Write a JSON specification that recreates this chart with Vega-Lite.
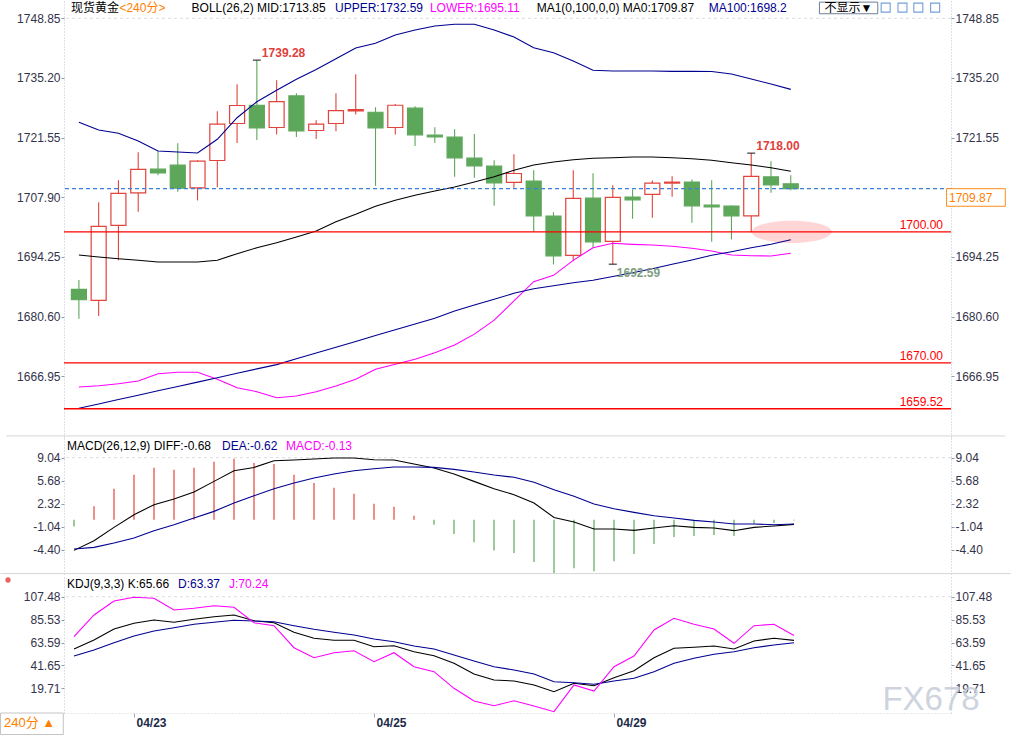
{
"$schema": "https://vega.github.io/schema/vega-lite/v6.json",
"background": "white",
"padding": 0,
"autosize": {"type": "pad"},
"spacing": 0,
"config": {
  "view": {"stroke": null},
  "font": "Liberation Sans, Noto Sans CJK SC",
  "locale": {"number": {"decimal": ".", "thousands": ",", "grouping": [3], "currency": ["", ""], "minus": "-"}},
  "axis": {"labelFont": "Liberation Sans", "labelFontSize": 12, "labelColor": "#33334a", "tickColor": "#8b9bb4", "tickSize": 3, "labelPadding": 1, "domainColor": "#b9c5d6", "domainDash": [1, 2], "grid": false, "labelOverlap": false, "labelFlush": false}
},
"datasets": {
  "bars": [
    {"i":0,"o":1686.85,"h":1688.96,"l":1680.12,"c":1684.46,"up":1725.06,"mid":1694.70,"lo":1664.50,"ma":1659.63,"macd":-1.00,"diff":-4.47,"dea":-4.27,"k":57.37,"d":50.66,"j":69.15},
    {"i":1,"o":1684.32,"h":1706.79,"l":1680.74,"c":1701.24,"up":1723.30,"mid":1694.24,"lo":1664.80,"ma":1660.61,"macd":1.94,"diff":-3.06,"dea":-4.03,"k":65.99,"d":56.41,"j":89.95},
    {"i":2,"o":1701.47,"h":1711.82,"l":1693.47,"c":1708.78,"up":1722.54,"mid":1693.85,"lo":1665.25,"ma":1661.62,"macd":4.51,"diff":-1.12,"dea":-3.39,"k":76.53,"d":63.41,"j":103.36},
    {"i":3,"o":1708.92,"h":1718.22,"l":1704.58,"c":1714.27,"up":1720.78,"mid":1693.49,"lo":1665.87,"ma":1662.62,"macd":6.55,"diff":0.73,"dea":-2.66,"k":81.99,"d":69.83,"j":106.90},
    {"i":4,"o":1714.34,"h":1718.45,"l":1712.96,"c":1713.49,"up":1718.49,"mid":1693.10,"lo":1667.54,"ma":1663.63,"macd":7.57,"diff":2.18,"dea":-1.60,"k":85.15,"d":74.62,"j":105.95},
    {"i":5,"o":1715.25,"h":1720.28,"l":1709.15,"c":1709.99,"up":1718.26,"mid":1693.10,"lo":1667.86,"ma":1664.61,"macd":7.28,"diff":3.01,"dea":-0.73,"k":82.95,"d":77.78,"j":94.74},
    {"i":6,"o":1710.07,"h":1716.39,"l":1707.18,"c":1716.16,"up":1718.03,"mid":1693.10,"lo":1667.86,"ma":1665.62,"macd":7.57,"diff":4.03,"dea":0.25,"k":85.83,"d":81.04,"j":96.36},
    {"i":7,"o":1716.32,"h":1727.59,"l":1710.22,"c":1724.62,"up":1721.17,"mid":1693.49,"lo":1666.26,"ma":1666.63,"macd":8.44,"diff":5.58,"dea":1.21,"k":88.32,"d":82.95,"j":98.86},
    {"i":8,"o":1724.78,"h":1733.76,"l":1720.35,"c":1728.90,"up":1726.11,"mid":1695.00,"lo":1664.34,"ma":1667.63,"macd":8.88,"diff":7.13,"dea":2.43,"k":89.95,"d":84.87,"j":97.32},
    {"i":9,"o":1728.96,"h":1739.28,"l":1721.03,"c":1723.78,"up":1729.77,"mid":1696.37,"lo":1663.42,"ma":1668.64,"macd":8.25,"diff":7.61,"dea":3.49,"k":84.48,"d":84.20,"j":82.57},
    {"i":10,"o":1723.87,"h":1734.68,"l":1722.27,"c":1729.81,"up":1732.38,"mid":1697.51,"lo":1662.05,"ma":1669.62,"macd":8.10,"diff":8.59,"dea":4.51,"k":82.57,"d":83.53,"j":79.70},
    {"i":11,"o":1731.09,"h":1731.71,"l":1721.72,"c":1723.09,"up":1734.89,"mid":1698.82,"lo":1662.44,"ma":1670.95,"macd":6.55,"diff":8.69,"dea":5.34,"k":73.37,"d":79.70,"j":58.61},
    {"i":12,"o":1723.18,"h":1725.54,"l":1721.26,"c":1724.62,"up":1737.13,"mid":1700.19,"lo":1663.42,"ma":1672.28,"macd":5.34,"diff":8.83,"dea":6.07,"k":67.62,"d":76.24,"j":49.06},
    {"i":13,"o":1724.78,"h":1731.71,"l":1723.02,"c":1727.75,"up":1739.61,"mid":1702.32,"lo":1664.73,"ma":1673.60,"macd":4.66,"diff":8.98,"dea":6.65,"k":65.71,"d":73.37,"j":53.83},
    {"i":14,"o":1727.66,"h":1736.05,"l":1726.84,"c":1727.98,"up":1742.06,"mid":1704.01,"lo":1666.26,"ma":1674.93,"macd":3.78,"diff":8.98,"dea":7.13,"k":65.71,"d":70.78,"j":55.74},
    {"i":15,"o":1727.36,"h":1728.51,"l":1710.52,"c":1723.78,"up":1743.13,"mid":1705.84,"lo":1668.55,"ma":1676.26,"macd":2.33,"diff":8.73,"dea":7.42,"k":59.57,"d":66.95,"j":45.20},
    {"i":16,"o":1723.87,"h":1729.26,"l":1722.27,"c":1728.96,"up":1745.03,"mid":1707.21,"lo":1669.69,"ma":1677.58,"macd":1.89,"diff":8.69,"dea":7.67,"k":60.53,"d":64.36,"j":53.83},
    {"i":17,"o":1728.28,"h":1728.74,"l":1719.66,"c":1722.18,"up":1746.17,"mid":1708.36,"lo":1670.84,"ma":1678.91,"macd":0.58,"diff":8.10,"dea":7.67,"k":54.78,"d":60.24,"j":40.41},
    {"i":18,"o":1722.11,"h":1723.94,"l":1720.35,"c":1721.72,"up":1747.09,"mid":1709.34,"lo":1672.35,"ma":1680.24,"macd":-0.73,"diff":7.52,"dea":7.61,"k":50.95,"d":57.37,"j":35.62},
    {"i":19,"o":1721.65,"h":1723.48,"l":1712.58,"c":1716.92,"up":1747.48,"mid":1710.25,"lo":1674.10,"ma":1681.89,"macd":-2.08,"diff":6.65,"dea":7.33,"k":43.66,"d":51.62,"j":19.71},
    {"i":20,"o":1716.85,"h":1722.40,"l":1712.35,"c":1715.09,"up":1747.48,"mid":1711.40,"lo":1676.60,"ma":1683.26,"macd":-3.30,"diff":5.58,"dea":6.95,"k":33.42,"d":45.87,"j":7.55},
    {"i":21,"o":1715.02,"h":1716.39,"l":1705.95,"c":1711.20,"up":1746.17,"mid":1712.61,"lo":1679.80,"ma":1684.56,"macd":-4.47,"diff":4.50,"dea":6.50,"k":27.67,"d":40.41,"j":3.04},
    {"i":22,"o":1711.30,"h":1717.76,"l":1710.07,"c":1713.35,"up":1744.57,"mid":1714.08,"lo":1684.20,"ma":1685.94,"macd":-4.85,"diff":3.64,"dea":6.17,"k":26.71,"d":37.25,"j":7.83},
    {"i":23,"o":1711.59,"h":1714.11,"l":1700.00,"c":1703.66,"up":1742.12,"mid":1715.29,"lo":1688.59,"ma":1686.99,"macd":-6.16,"diff":2.43,"dea":5.44,"k":22.88,"d":33.42,"j":2.80},
    {"i":24,"o":1703.59,"h":1704.51,"l":1692.55,"c":1694.52,"up":1740.98,"mid":1715.97,"lo":1690.05,"ma":1687.67,"macd":-7.76,"diff":0.33,"dea":4.37,"k":16.46,"d":26.04,"j":-2.70},
    {"i":25,"o":1694.61,"h":1714.11,"l":1693.31,"c":1707.64,"up":1739.08,"mid":1716.50,"lo":1693.48,"ma":1688.36,"macd":-7.09,"diff":-0.34,"dea":3.40,"k":24.50,"d":25.08,"j":22.88},
    {"i":26,"o":1707.71,"h":1713.42,"l":1696.35,"c":1697.72,"up":1736.95,"mid":1716.82,"lo":1696.37,"ma":1688.93,"macd":-7.52,"diff":-1.36,"dea":2.29,"k":22.21,"d":23.54,"j":17.13},
    {"i":27,"o":1697.81,"h":1710.68,"l":1692.59,"c":1707.87,"up":1736.79,"mid":1716.96,"lo":1697.37,"ma":1689.78,"macd":-6.06,"diff":-1.36,"dea":1.60,"k":29.87,"d":26.71,"j":40.41},
    {"i":28,"o":1707.94,"h":1709.70,"l":1702.98,"c":1707.32,"up":1736.79,"mid":1717.12,"lo":1697.14,"ma":1690.65,"macd":-5.00,"diff":-1.56,"dea":1.06,"k":36.58,"d":29.29,"j":50.66},
    {"i":29,"o":1708.55,"h":1711.75,"l":1703.20,"c":1711.14,"up":1736.79,"mid":1717.12,"lo":1696.98,"ma":1691.56,"macd":-3.54,"diff":-1.22,"dea":0.58,"k":49.06,"d":35.62,"j":75.58},
    {"i":30,"o":1711.14,"h":1712.74,"l":1708.00,"c":1711.37,"up":1736.72,"mid":1716.96,"lo":1696.69,"ma":1692.57,"macd":-2.52,"diff":-0.88,"dea":0.25,"k":58.04,"d":43.66,"j":86.79},
    {"i":31,"o":1711.37,"h":1711.98,"l":1702.06,"c":1705.95,"up":1736.72,"mid":1716.73,"lo":1696.23,"ma":1693.55,"macd":-2.38,"diff":-1.12,"dea":-0.10,"k":59.00,"d":48.46,"j":81.04},
    {"i":32,"o":1706.11,"h":1711.82,"l":1697.72,"c":1705.72,"up":1736.68,"mid":1716.36,"lo":1695.61,"ma":1694.63,"macd":-2.23,"diff":-1.22,"dea":-0.34,"k":60.24,"d":52.29,"j":76.53},
    {"i":33,"o":1705.88,"h":1706.04,"l":1698.27,"c":1703.66,"up":1736.11,"mid":1715.81,"lo":1694.70,"ma":1695.45,"macd":-2.38,"diff":-1.60,"dea":-0.63,"k":57.37,"d":54.78,"j":62.83},
    {"i":34,"o":1703.66,"h":1718.00,"l":1699.90,"c":1712.67,"up":1734.96,"mid":1715.29,"lo":1694.54,"ma":1696.37,"macd":-0.58,"diff":-1.12,"dea":-0.63,"k":65.03,"d":58.61,"j":79.70},
    {"i":35,"o":1712.58,"h":1716.16,"l":1708.92,"c":1710.75,"up":1733.82,"mid":1714.67,"lo":1694.47,"ma":1697.15,"macd":-0.48,"diff":-0.92,"dea":-0.73,"k":67.62,"d":61.20,"j":81.04},
    {"i":36,"o":1710.98,"h":1712.96,"l":1709.50,"c":1709.87,"up":1732.59,"mid":1713.85,"lo":1695.11,"ma":1698.20,"macd":-0.13,"diff":-0.68,"dea":-0.62,"k":65.66,"d":63.37,"j":70.24}
  ],
  "grid": [{"panel":"main","v":1748.85},{"panel":"macd","v":9.04},{"panel":"kdj","v":107.48}],
  "levels": [{"p":1700},{"p":1670},{"p":1659.52}],
  "extremes": [{"i":9,"p":1739.28,"side":"high"},{"i":34,"p":1718.00,"side":"high"},{"i":27,"p":1692.59,"side":"low"}],
  "tools": [{"tool":"cross","x":40.8},{"tool":"range","x":41.65},{"tool":"play","x":42.45},{"tool":"end","x":43.3}],
  "notes": [
    {"panel":"main","x":-0.4,"y":1751.21,"t":"现货黄金","role":"name"},
    {"panel":"main","x":2.05,"y":1751.21,"t":"<240分>","role":"period"},
    {"panel":"main","x":5.7,"y":1751.21,"t":"BOLL(26,2) MID:1713.85","role":"name"},
    {"panel":"main","x":12.95,"y":1751.21,"t":"UPPER:1732.59","role":"upper"},
    {"panel":"main","x":17.75,"y":1751.21,"t":"LOWER:1695.11","role":"lower"},
    {"panel":"main","x":23.15,"y":1751.21,"t":"MA1(0,100,0,0) MA0:1709.87","role":"name"},
    {"panel":"main","x":31.85,"y":1751.21,"t":"MA100:1698.2","role":"upper"},
    {"panel":"main","x":37.7,"y":1751.21,"t":"不显示▼","role":"name"},
    {"panel":"macd","x":-0.35,"y":10.73,"t":"MACD(26,12,9) DIFF:-0.68","role":"name"},
    {"panel":"macd","x":7.4,"y":10.73,"t":"DEA:-0.62","role":"upper"},
    {"panel":"macd","x":10.6,"y":10.73,"t":"MACD:-0.13","role":"lower"},
    {"panel":"kdj","x":-0.35,"y":119.65,"t":"KDJ(9,3,3) K:65.66","role":"name"},
    {"panel":"kdj","x":5.2,"y":119.65,"t":"D:63.37","role":"upper"},
    {"panel":"kdj","x":7.75,"y":119.65,"t":"J:70.24","role":"lower"}
  ]
},
"vconcat": [
  {
    "width": 887, "height": 436,
    "data": {"name": "bars"},
    "resolve": {"axis": {"y": "independent"}},
    "layer": [
      {"data": {"name": "grid"}, "transform": [{"filter": "datum.panel == 'main'"}],
       "mark": {"type": "rule", "color": "#dddddd", "strokeDash": [3, 3]},
       "encoding": {"y": {"field": "v", "type": "quantitative", "scale": {"domain": [1653.06, 1752.81], "nice": false, "zero": false},
         "axis": {"orient": "right", "values": [1748.85, 1735.2, 1721.55, 1694.25, 1680.6, 1666.95], "format": ".2f", "title": null}}}},
      {"data": {"values": [{"zone": "support"}]},
       "mark": {"type": "point", "shape": "M-1,0A1,0.28,0,1,1,1,0A1,0.28,0,1,1,-1,0Z", "filled": true, "color": "#FFD5D5", "opacity": 1, "size": 6400, "strokeWidth": 0},
       "encoding": {"x": {"datum": 36.05, "axis": null}, "y": {"datum": 1700, "axis": null}}},
      {"mark": {"type": "rule", "strokeWidth": 1.1},
       "encoding": {"x": {"field": "i", "type": "quantitative", "scale": {"domain": [-0.5, 43.85], "nice": false, "zero": false}, "axis": null},
         "y": {"field": "l", "type": "quantitative", "axis": {"orient": "left", "values": [1748.85, 1735.2, 1721.55, 1707.9, 1694.25, 1680.6, 1666.95], "format": ".2f", "title": null}},
         "y2": {"field": "h"},
         "color": {"condition": {"test": "datum.c >= datum.o", "value": "#E2433B"}, "value": "#5DA75A"}}},
      {"mark": {"type": "bar", "width": 15, "strokeWidth": 1.2},
       "encoding": {"x": {"field": "i", "type": "quantitative", "axis": null},
         "y": {"field": "o", "type": "quantitative", "axis": null}, "y2": {"field": "c"},
         "fill": {"condition": {"test": "datum.c >= datum.o", "value": "#ffffff"}, "value": "#5DA75A"},
         "stroke": {"condition": {"test": "datum.c >= datum.o", "value": "#E2433B"}, "value": "#5DA75A"}}},
      {"mark": {"type": "line", "color": "#000090", "strokeWidth": 1.1},
       "encoding": {"x": {"field": "i", "type": "quantitative", "axis": null}, "y": {"field": "up", "type": "quantitative", "axis": null}}},
      {"mark": {"type": "line", "color": "#000000", "strokeWidth": 1.1},
       "encoding": {"x": {"field": "i", "type": "quantitative", "axis": null}, "y": {"field": "mid", "type": "quantitative", "axis": null}}},
      {"mark": {"type": "line", "color": "#FF00FF", "strokeWidth": 1.1},
       "encoding": {"x": {"field": "i", "type": "quantitative", "axis": null}, "y": {"field": "lo", "type": "quantitative", "axis": null}}},
      {"mark": {"type": "line", "color": "#000090", "strokeWidth": 1.1},
       "encoding": {"x": {"field": "i", "type": "quantitative", "axis": null}, "y": {"field": "ma", "type": "quantitative", "axis": null}}},
      {"data": {"name": "levels"},
       "mark": {"type": "rule", "color": "#FF0000", "strokeWidth": 1.3},
       "encoding": {"y": {"field": "p", "type": "quantitative", "axis": null}}},
      {"transform": [{"filter": "datum.i == 36"}],
       "mark": {"type": "rule", "color": "#3A7FD8", "strokeDash": [4, 3], "strokeWidth": 1.2},
       "encoding": {"y": {"field": "c", "type": "quantitative", "axis": null}}},
      {"data": {"name": "extremes"},
       "mark": {"type": "point", "shape": "stroke", "color": "#000000", "size": 64, "strokeWidth": 1.3},
       "encoding": {"x": {"field": "i", "type": "quantitative", "axis": null}, "y": {"field": "p", "type": "quantitative", "axis": null}}},
      {"data": {"name": "extremes"}, "transform": [{"filter": "datum.side == 'high'"}],
       "mark": {"type": "text", "align": "left", "baseline": "middle", "dx": 5, "dy": -7, "fontSize": 12, "fontWeight": "bold", "color": "#E0403A"},
       "encoding": {"x": {"field": "i", "type": "quantitative", "axis": null}, "y": {"field": "p", "type": "quantitative", "axis": null}, "text": {"field": "p", "format": ".2f"}}},
      {"data": {"name": "extremes"}, "transform": [{"filter": "datum.side == 'low'"}],
       "mark": {"type": "text", "align": "left", "baseline": "middle", "dx": 4, "dy": 9, "fontSize": 12, "fontWeight": "bold", "color": "#7FA07F"},
       "encoding": {"x": {"field": "i", "type": "quantitative", "axis": null}, "y": {"field": "p", "type": "quantitative", "axis": null}, "text": {"field": "p", "format": ".2f"}}},
      {"data": {"name": "levels"},
       "mark": {"type": "text", "align": "right", "baseline": "middle", "dy": -7, "fontSize": 12, "color": "#FF0000"},
       "encoding": {"x": {"datum": 43.7, "axis": null}, "y": {"field": "p", "type": "quantitative", "axis": null}, "text": {"field": "p", "format": ".2f"}}},
      {"transform": [{"filter": "datum.i == 36"}],
       "mark": {"type": "rect", "fill": "#ffffff", "stroke": "#FF8C1A", "strokeWidth": 1},
       "encoding": {"x": {"datum": 43.88, "axis": null}, "x2": {"datum": 46.85}, "y": {"field": "c", "type": "quantitative", "axis": null}, "y2": {"datum": 1705.85}}},
      {"transform": [{"filter": "datum.i == 36"}],
       "mark": {"type": "text", "align": "left", "baseline": "middle", "dx": 3, "dy": 9, "fontSize": 12, "color": "#FF8000"},
       "encoding": {"x": {"datum": 43.85, "axis": null}, "y": {"field": "c", "type": "quantitative", "axis": null}, "text": {"field": "c", "format": ".2f"}}},
      {"data": {"values": [{"ui": "button"}]},
       "mark": {"type": "rect", "fill": "#ffffff", "stroke": "#6f7f95", "strokeWidth": 1},
       "encoding": {"x": {"datum": 37.45, "axis": null}, "x2": {"datum": 40.4}, "y": {"datum": 1752.55, "axis": null}, "y2": {"datum": 1749.9}}},
      {"data": {"name": "tools"},
       "mark": {"type": "point", "shape": "square", "filled": false, "color": "#3A78C8", "size": 81, "strokeWidth": 1.1},
       "encoding": {"x": {"field": "x", "type": "quantitative", "axis": null}, "y": {"datum": 1751.3, "axis": null}}},
      {"data": {"name": "notes"}, "transform": [{"filter": "datum.panel == 'main'"}],
       "mark": {"type": "text", "align": "left", "baseline": "middle", "fontSize": 12},
       "encoding": {"x": {"field": "x", "type": "quantitative", "axis": null}, "y": {"field": "y", "type": "quantitative", "axis": null}, "text": {"field": "t"},
         "color": {"field": "role", "type": "nominal", "scale": {"domain": ["name", "period", "upper", "lower"], "range": ["#000000", "#FF8000", "#000090", "#FF00FF"]}, "legend": null}}},
      {"data": {"values": [{"ui": "separator"}]},
       "mark": {"type": "rule", "color": "#d6d6d6", "strokeWidth": 1},
       "encoding": {"x": {"datum": -3.675, "axis": null}, "x2": {"datum": 46.85}, "y": {"datum": 1653.3, "axis": null}}}
    ]
  },
  {
    "width": 887, "height": 137,
    "data": {"name": "bars"},
    "resolve": {"axis": {"y": "independent"}},
    "layer": [
      {"data": {"name": "grid"}, "transform": [{"filter": "datum.panel == 'macd'"}],
       "mark": {"type": "rule", "color": "#dddddd", "strokeDash": [3, 3]},
       "encoding": {"y": {"field": "v", "type": "quantitative", "scale": {"domain": [-7.91, 12.04], "nice": false, "zero": false},
         "axis": {"orient": "right", "values": [9.04, 5.68, 2.32, -1.04, -4.4], "format": ".2f", "title": null}}}},
      {"mark": {"type": "rule", "strokeWidth": 1.2},
       "encoding": {"x": {"field": "i", "type": "quantitative", "scale": {"domain": [-0.5, 43.85], "nice": false, "zero": false}, "axis": null},
         "y": {"field": "macd", "type": "quantitative", "axis": {"orient": "left", "values": [9.04, 5.68, 2.32, -1.04, -4.4], "format": ".2f", "title": null}},
         "y2": {"datum": 0},
         "color": {"condition": {"test": "datum.macd >= 0", "value": "#E2433B"}, "value": "#5DA75A"}}},
      {"mark": {"type": "line", "color": "#000000", "strokeWidth": 1.1},
       "encoding": {"x": {"field": "i", "type": "quantitative", "axis": null}, "y": {"field": "diff", "type": "quantitative", "axis": null}}},
      {"mark": {"type": "line", "color": "#000090", "strokeWidth": 1.1},
       "encoding": {"x": {"field": "i", "type": "quantitative", "axis": null}, "y": {"field": "dea", "type": "quantitative", "axis": null}}},
      {"data": {"name": "notes"}, "transform": [{"filter": "datum.panel == 'macd'"}],
       "mark": {"type": "text", "align": "left", "baseline": "middle", "fontSize": 12},
       "encoding": {"x": {"field": "x", "type": "quantitative", "axis": null}, "y": {"field": "y", "type": "quantitative", "axis": null}, "text": {"field": "t"},
         "color": {"field": "role", "type": "nominal", "scale": {"domain": ["name", "period", "upper", "lower"], "range": ["#000000", "#FF8000", "#000090", "#FF00FF"]}, "legend": null}}},
      {"data": {"values": [{"ui": "separator"}]},
       "mark": {"type": "rule", "color": "#d6d6d6", "strokeWidth": 1},
       "encoding": {"x": {"datum": -3.675, "axis": null}, "x2": {"datum": 46.85}, "y": {"datum": -7.85, "axis": null}}}
    ]
  },
  {
    "width": 887, "height": 138,
    "data": {"name": "bars"},
    "resolve": {"axis": {"y": "independent", "x": "independent"}},
    "layer": [
      {"data": {"name": "grid"}, "transform": [{"filter": "datum.panel == 'kdj'"}],
       "mark": {"type": "rule", "color": "#dddddd", "strokeDash": [3, 3]},
       "encoding": {"y": {"field": "v", "type": "quantitative", "scale": {"domain": [-3.95, 128.27], "nice": false, "zero": false},
         "axis": {"orient": "right", "values": [107.48, 85.53, 63.59, 41.65, 19.71], "format": ".2f", "title": null}}}},
      {"mark": {"type": "line", "color": "#000000", "strokeWidth": 1.1},
       "encoding": {"x": {"field": "i", "type": "quantitative", "scale": {"domain": [-0.5, 43.85], "nice": false, "zero": false},
           "axis": {"orient": "bottom", "values": [3, 15, 27], "labelExpr": "datum.value == 3 ? '04/23' : datum.value == 15 ? '04/25' : '04/29'", "labelAlign": "left", "labelBaseline": "top", "labelFontWeight": "bold", "labelColor": "#1c2a48", "labelOffset": 2, "labelPadding": 0, "tickSize": 4, "tickColor": "#9aa5b5", "domainColor": "#d4d4d4", "title": null}},
         "y": {"field": "k", "type": "quantitative", "axis": {"orient": "left", "values": [107.48, 85.53, 63.59, 41.65, 19.71], "format": ".2f", "title": null}}}},
      {"mark": {"type": "line", "color": "#000090", "strokeWidth": 1.1},
       "encoding": {"x": {"field": "i", "type": "quantitative", "axis": null}, "y": {"field": "d", "type": "quantitative", "axis": null}}},
      {"mark": {"type": "line", "color": "#FF00FF", "strokeWidth": 1.1},
       "encoding": {"x": {"field": "i", "type": "quantitative", "axis": null}, "y": {"field": "j", "type": "quantitative", "axis": null}}},
      {"data": {"name": "notes"}, "transform": [{"filter": "datum.panel == 'kdj'"}],
       "mark": {"type": "text", "align": "left", "baseline": "middle", "fontSize": 12},
       "encoding": {"x": {"field": "x", "type": "quantitative", "axis": null}, "y": {"field": "y", "type": "quantitative", "axis": null}, "text": {"field": "t"},
         "color": {"field": "role", "type": "nominal", "scale": {"domain": ["name", "period", "upper", "lower"], "range": ["#000000", "#FF8000", "#000090", "#FF00FF"]}, "legend": null}}},
      {"data": {"values": [{"t": "FX678"}]},
       "mark": {"type": "text", "align": "center", "baseline": "middle", "fontSize": 33, "color": "#c6cdd8", "opacity": 0.85, "font": "Liberation Sans"},
       "encoding": {"x": {"datum": 42.85, "axis": null}, "y": {"datum": 8.5, "axis": null}, "text": {"field": "t"}}},
      {"data": {"values": [{"ui": "period box"}]},
       "mark": {"type": "rect", "fill": "#ffffff", "stroke": "#c4c4c4", "strokeWidth": 1},
       "encoding": {"x": {"datum": -3.675, "axis": null}, "x2": {"datum": -0.535}, "y": {"datum": -3.95, "axis": null}, "y2": {"datum": -24.55}}},
      {"data": {"values": [{"t": "240分 ▲"}]},
       "mark": {"type": "text", "align": "left", "baseline": "middle", "fontSize": 13, "color": "#FF7F00"},
       "encoding": {"x": {"datum": -3.5, "axis": null}, "y": {"datum": -13.6, "axis": null}, "text": {"field": "t"}}},
      {"data": {"values": [{"ui": "icon"}]},
       "mark": {"type": "point", "shape": "circle", "filled": true, "color": "#E02020", "size": 28},
       "encoding": {"x": {"datum": -3.3, "axis": null}, "y": {"datum": 123.48, "axis": null}}}
    ]
  }
]
}
